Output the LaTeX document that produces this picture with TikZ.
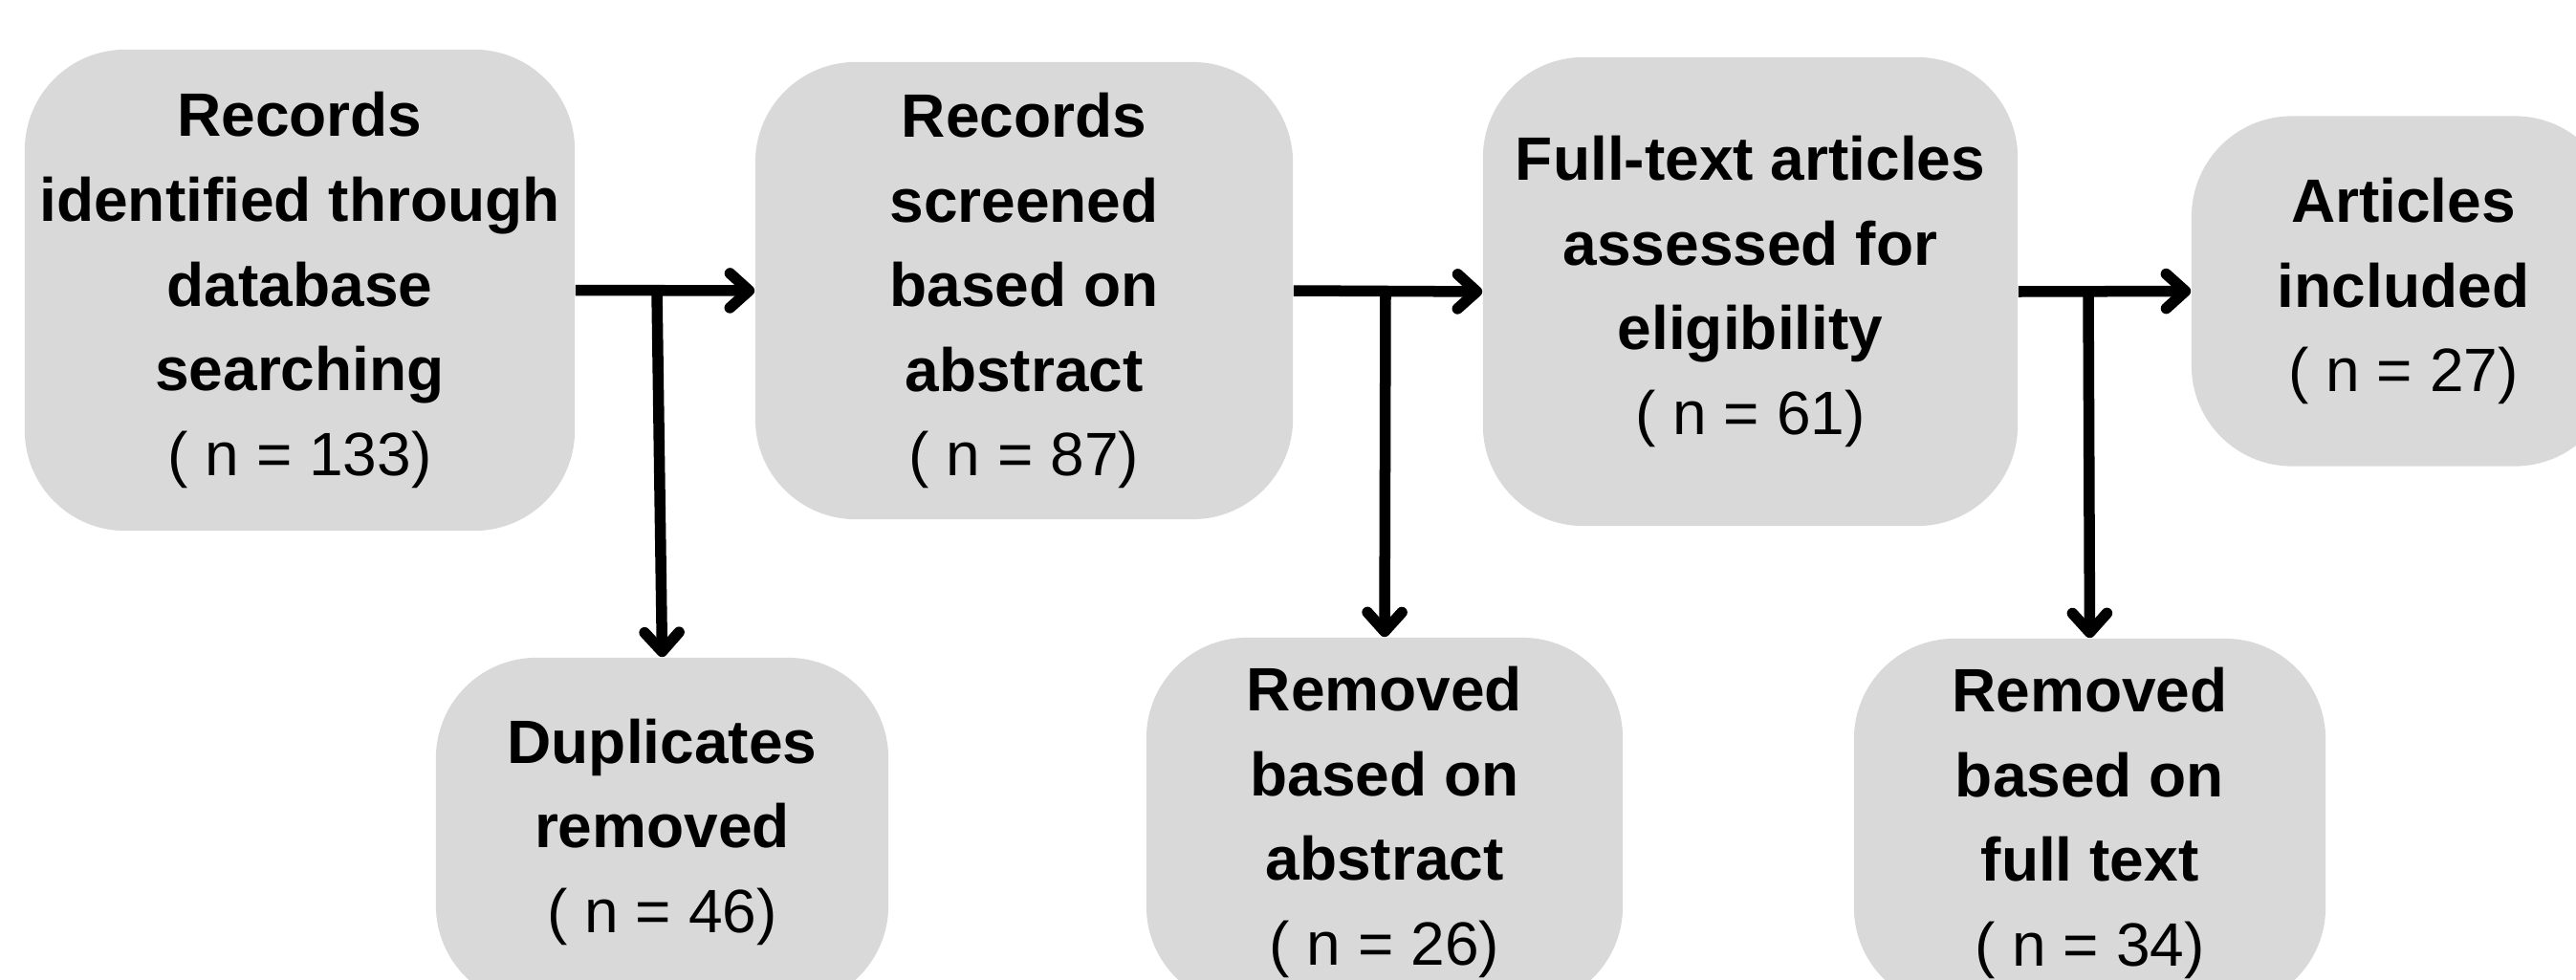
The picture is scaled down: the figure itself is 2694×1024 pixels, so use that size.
\documentclass[tikz,border=0pt]{standalone}
\usepackage{fontspec}
\setmainfont{Liberation Sans}
\usetikzlibrary{arrows.meta}
\definecolor{boxgray}{RGB}{217,217,217}
\tikzset{
  flowbox/.style={draw=none, fill=boxgray, rounded corners=1.05cm, inner sep=0pt,
    align=center, text=black, font=\fontsize{18.21}{25.18}\selectfont},
  flowarrow/.style={line width=0.115cm, -{Straight Barb[length=0.2cm, width=0.36cm, round]}},
}
\newcommand{\nval}[1]{\mdseries ( n = #1)}
\begin{document}
\begin{tikzpicture}[x=0.01cm, y=-0.01cm]
\useasboundingbox (0,0) rectangle (2694,1024);
\clip (0,0) rectangle (2694,1024);
\node[flowbox, minimum width=5.75cm, minimum height=5.03cm] (b1) at (313.5,303.5)
  {\bfseries Records\\\bfseries identified through\\\bfseries database\\\bfseries searching\\\nval{133}};
\node[flowbox, minimum width=5.62cm, minimum height=4.78cm] (b2) at (1071,304)
  {\bfseries Records\\\bfseries screened\\\bfseries based on\\\bfseries abstract\\\nval{87}};
\node[flowbox, minimum width=5.59cm, minimum height=4.90cm] (b3) at (1830.5,305)
  {\bfseries Full-text articles\\\bfseries assessed for\\\bfseries eligibility\\\nval{61}};
\node[flowbox, minimum width=4.43cm, minimum height=3.66cm] (b4) at (2513.5,304.5)
  {\bfseries Articles\\\bfseries included\\\nval{27}};
\node[flowbox, minimum width=4.73cm, minimum height=3.64cm] (b5) at (692.5,870)
  {\bfseries Duplicates\\\bfseries removed\\\nval{46}};
\node[flowbox, minimum width=4.98cm, minimum height=3.86cm] (b6) at (1448,860)
  {\bfseries Removed\\\bfseries based on\\\bfseries abstract\\\nval{26}};
\node[flowbox, minimum width=4.93cm, minimum height=3.86cm] (b7) at (2185.5,861)
  {\bfseries Removed\\\bfseries based on\\\bfseries full text\\\nval{34}};
\coordinate (j1) at (687,304);
\coordinate (j2) at (1449,304);
\coordinate (j3) at (2184,305);
\draw[flowarrow] (b1.east) -- (b2.west);
\draw[flowarrow] (b2.east) -- (b3.west);
\draw[flowarrow] (b3.east) -- (b4.west);
\draw[flowarrow] (j1) -- (b5.north);
\draw[flowarrow] (j2) -- (b6.north);
\draw[flowarrow] (j3) -- (b7.north);
\end{tikzpicture}
\end{document}
